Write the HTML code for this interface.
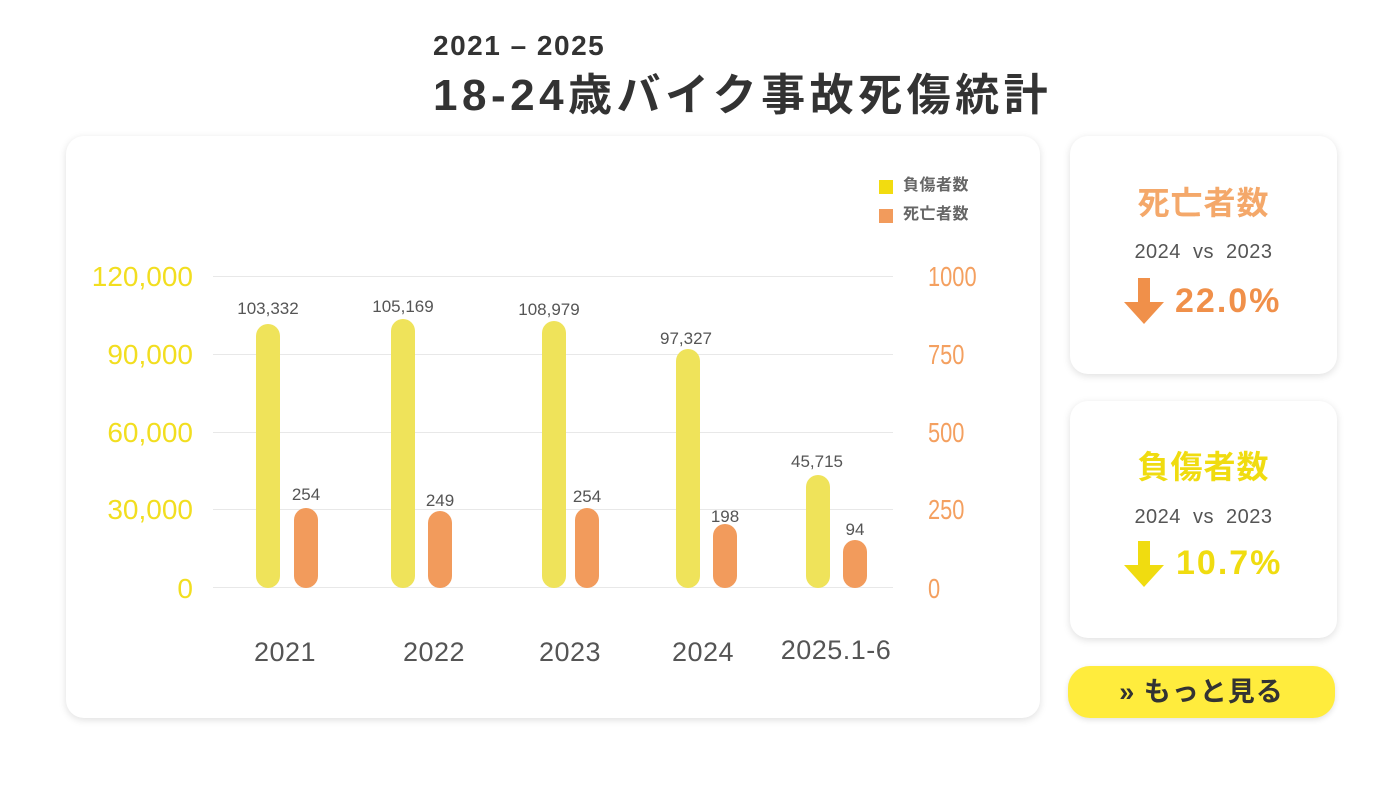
<!DOCTYPE html>
<html><head><meta charset="utf-8"><style>
body{margin:0;width:1400px;height:790px;background:#fff;position:relative;overflow:hidden;font-family:"Liberation Sans","Noto Sans CJK JP",sans-serif}
.a{position:absolute;white-space:nowrap}
.card{position:absolute;background:#fff;border-radius:18px;box-shadow:0 2px 8px rgba(0,0,0,0.13)}
.g{position:absolute;left:213px;width:680px;height:1px;background:#e8e8e8}
.yl{position:absolute;left:60px;width:133px;text-align:right;font-size:28px;color:#f2de20;line-height:30px}
.yr{position:absolute;left:928px;font-size:28px;color:#f4a060;line-height:30px;transform:scaleX(0.78);transform-origin:left}
.b{position:absolute;width:24px;border-radius:12px}
.y{background:#efe35a}.o{background:#f29b5c}
.v{position:absolute;width:100px;text-align:center;font-size:17px;color:#555;line-height:20px}
.x{position:absolute;width:160px;text-align:center;font-size:27px;color:#555;line-height:30px;letter-spacing:0.5px}
</style></head><body>
<div class="a" style="left:433px;top:30px;font-size:28px;font-weight:bold;color:#333;line-height:32px;letter-spacing:1.5px">2021 – 2025</div>
<div class="a" style="left:433px;top:70px;font-size:44px;font-weight:bold;color:#333;line-height:52px;letter-spacing:4.5px">18-24歳バイク事故死傷統計</div>
<div class="card" style="left:66px;top:136px;width:974px;height:582px"></div>
<div class="a" style="left:879px;top:180px;width:14px;height:14px;background:#f2dc10"></div>
<div class="a" style="left:903px;top:176px;font-size:16px;font-weight:bold;color:#666;line-height:20px;letter-spacing:0.5px">負傷者数</div>
<div class="a" style="left:879px;top:209px;width:14px;height:14px;background:#f29b5c"></div>
<div class="a" style="left:903px;top:205px;font-size:16px;font-weight:bold;color:#666;line-height:20px;letter-spacing:0.5px">死亡者数</div>
<div class="g" style="top:276px"></div><div class="g" style="top:354px"></div><div class="g" style="top:432px"></div><div class="g" style="top:509px"></div><div class="g" style="top:587px"></div>
<div class="yl" style="top:262px">120,000</div><div class="yl" style="top:340px">90,000</div><div class="yl" style="top:418px">60,000</div><div class="yl" style="top:495px">30,000</div><div class="yl" style="top:574px">0</div>
<div class="yr" style="top:262px">1000</div><div class="yr" style="top:340px">750</div><div class="yr" style="top:418px">500</div><div class="yr" style="top:495px">250</div><div class="yr" style="top:574px">0</div>
<div class="b y" style="left:256px;top:324px;height:264px"></div>
<div class="b y" style="left:391px;top:319px;height:269px"></div>
<div class="b y" style="left:542px;top:321px;height:267px"></div>
<div class="b y" style="left:676px;top:349px;height:239px"></div>
<div class="b y" style="left:806px;top:475px;height:113px"></div>
<div class="b o" style="left:294px;top:508px;height:80px"></div>
<div class="b o" style="left:428px;top:511px;height:77px"></div>
<div class="b o" style="left:575px;top:508px;height:80px"></div>
<div class="b o" style="left:713px;top:524px;height:64px"></div>
<div class="b o" style="left:843px;top:540px;height:48px"></div>
<div class="v" style="left:218px;top:299px">103,332</div>
<div class="v" style="left:353px;top:297px">105,169</div>
<div class="v" style="left:499px;top:300px">108,979</div>
<div class="v" style="left:636px;top:329px">97,327</div>
<div class="v" style="left:767px;top:452px">45,715</div>
<div class="v" style="left:256px;top:485px">254</div>
<div class="v" style="left:390px;top:491px">249</div>
<div class="v" style="left:537px;top:487px">254</div>
<div class="v" style="left:675px;top:507px">198</div>
<div class="v" style="left:805px;top:520px">94</div>
<div class="x" style="left:205px;top:637px">2021</div>
<div class="x" style="left:354px;top:637px">2022</div>
<div class="x" style="left:490px;top:637px">2023</div>
<div class="x" style="left:623px;top:637px">2024</div>
<div class="x" style="left:756px;top:635px">2025.1-6</div>

<div class="card" style="left:1070px;top:136px;width:267px;height:238px"></div>
<div class="a" style="left:1070px;width:267px;text-align:center;top:184px;font-size:32px;font-weight:bold;color:#f4a86a;line-height:38px;letter-spacing:1px">死亡者数</div>
<div class="a" style="left:1070px;width:267px;text-align:center;top:240px;font-size:20px;color:#555;line-height:24px;word-spacing:6px;letter-spacing:0.5px">2024 vs 2023</div>
<svg class="a" style="left:1124px;top:278px" width="40" height="46"><rect x="14" y="0" width="12" height="26" fill="#f0904a"/><polygon points="0,24 40,24 20,46" fill="#f0904a"/></svg>
<div class="a" style="left:1175px;top:281px;font-size:34px;font-weight:bold;color:#f0904a;line-height:40px;letter-spacing:2px">22.0%</div>

<div class="card" style="left:1070px;top:401px;width:267px;height:237px"></div>
<div class="a" style="left:1070px;width:267px;text-align:center;top:448px;font-size:32px;font-weight:bold;color:#f0dc10;line-height:38px;letter-spacing:1px">負傷者数</div>
<div class="a" style="left:1070px;width:267px;text-align:center;top:505px;font-size:20px;color:#555;line-height:24px;word-spacing:6px;letter-spacing:0.5px">2024 vs 2023</div>
<svg class="a" style="left:1124px;top:541px" width="40" height="46"><rect x="14" y="0" width="12" height="26" fill="#f0dc10"/><polygon points="0,24 40,24 20,46" fill="#f0dc10"/></svg>
<div class="a" style="left:1176px;top:543px;font-size:34px;font-weight:bold;color:#f0dc10;line-height:40px;letter-spacing:2px">10.7%</div>

<div class="a" style="left:1068px;top:666px;width:267px;height:52px;background:#ffec3d;border-radius:22px;box-shadow:0 2px 6px rgba(0,0,0,0.12)"></div>
<div class="a" style="left:1068px;width:267px;text-align:center;top:674px;font-size:27px;font-weight:bold;color:#333;line-height:36px;letter-spacing:1px">» もっと見る</div>
</body></html>
